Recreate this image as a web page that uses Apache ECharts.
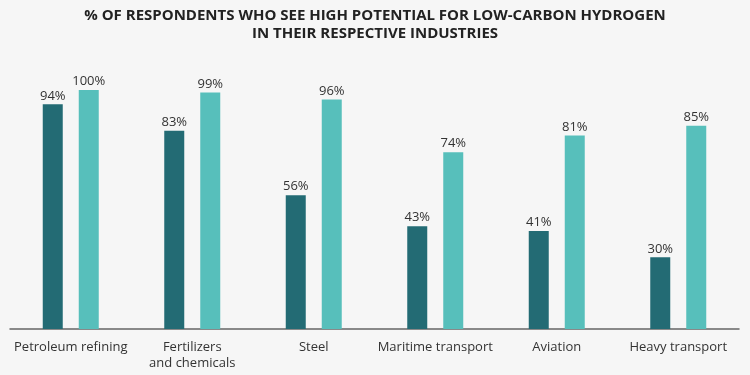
<!DOCTYPE html>
<html>
<head>
<meta charset="utf-8">
<style>
  html, body { margin: 0; padding: 0; background: #f6f6f6; }
  #chart { width: 750px; height: 375px; }
</style>
<script src="https://cdn.jsdelivr.net/npm/echarts@6/dist/echarts.min.js"></script>
</head>
<body>
<div id="chart"></div>
<script>
var categories = ['Petroleum refining', 'Fertilizers\nand chemicals', 'Steel', 'Maritime transport', 'Aviation', 'Heavy transport'];
var seriesA = [94, 83, 56, 43, 41, 30];
var seriesB = [100, 99, 96, 74, 81, 85];

var myChart = echarts.init(document.getElementById('chart'));
var labelStyle = {
  show: true,
  position: 'top',
  formatter: '{c}%',
  color: '#333',
  fontSize: 13,
  fontFamily: 'Open Sans',
  distance: 2
};
var option = {
  backgroundColor: '#f6f6f6',
  title: {
    text: '% OF RESPONDENTS WHO SEE HIGH POTENTIAL FOR LOW-CARBON HYDROGEN\nIN THEIR RESPECTIVE INDUSTRIES',
    left: 'center',
    top: 2,
    textStyle: {
      fontSize: 15,
      fontWeight: 'bold',
      color: '#222',
      lineHeight: 18,
      fontFamily: 'Open Sans'
    }
  },
  grid: { left: 10, right: 11, top: 90, bottom: 46 },
  xAxis: {
    type: 'category',
    data: categories,
    axisLine: { lineStyle: { color: '#666', width: 1.5 } },
    axisTick: { show: false },
    axisLabel: {
      interval: 0,
      color: '#333',
      fontSize: 13,
      fontFamily: 'Open Sans',
      lineHeight: 16,
      margin: 10
    }
  },
  yAxis: {
    type: 'value',
    min: 0,
    max: 100,
    show: false,
    splitLine: { show: false }
  },
  series: [
    {
      type: 'bar',
      data: seriesA,
      barWidth: 20,
      barGap: '80%',
      itemStyle: { color: '#236b74' },
      label: labelStyle
    },
    {
      type: 'bar',
      data: seriesB,
      barWidth: 20,
      itemStyle: { color: '#57bfbb' },
      label: labelStyle
    }
  ]
};
myChart.setOption(option);
</script>
</body>
</html>
